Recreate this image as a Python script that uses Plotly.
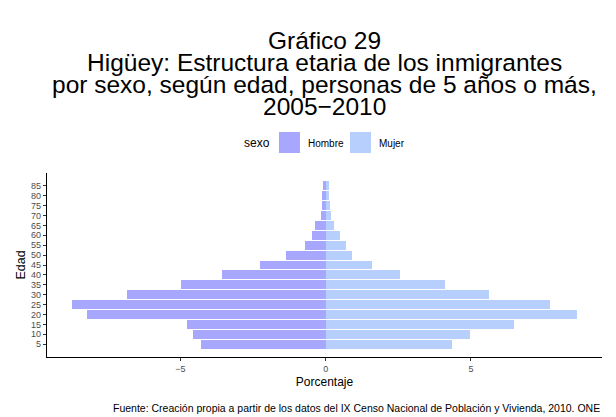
import plotly.graph_objects as go

_FONT = "Liberation Sans, Arial, sans-serif"
_HOMBRE = "#a7a7fe"
_MUJER = "#b7cffc"

# age groups (lower bound) and percentage of immigrants per sex
edades = [5, 10, 15, 20, 25, 30, 35, 40, 45, 50, 55, 60, 65, 70, 75, 80, 85]
hombre = [4.29, 4.56, 4.77, 8.21, 8.72, 6.83, 4.98, 3.57, 2.26, 1.37,
          0.71, 0.47, 0.37, 0.16, 0.13, 0.13, 0.10]
mujer = [4.34, 4.96, 6.47, 8.64, 7.71, 5.61, 4.10, 2.55, 1.59, 0.90,
         0.70, 0.49, 0.29, 0.18, 0.15, 0.11, 0.11]

x_ticks = [-5, 0, 5]
x_labels = ["\u22125", "0", "5"]

titulo = [
    "Gráfico 29",
    "Higüey: Estructura etaria de los inmigrantes",
    "por sexo, según edad, personas de 5 años o más,",
    "2005\u22122010",
]
fuente = ("Fuente: Creación propia a partir de los datos del IX Censo Nacional "
          "de Población y Vivienda, 2010. ONE")

# the page body has an 8px margin, so the figure is drawn 8px in
_OFF = 8
_W, _H = 616 - _OFF, 417 - _OFF
# plot area in page pixels (left, right, top, bottom)
_L, _R, _T, _B = 47, 602, 173, 357


def px(x, y):
    """page pixel position -> paper coordinates"""
    return (x - _L) / (_R - _L), (_B - y) / (_B - _T)


def plot_pyramid():
    fig = go.Figure()
    fig.add_trace(go.Bar(y=edades, x=[-v for v in hombre], orientation="h",
                         width=4.5, name="Hombre", marker_color=_HOMBRE,
                         marker_line_width=0, showlegend=False))
    fig.add_trace(go.Bar(y=edades, x=mujer, orientation="h", width=4.5,
                         name="Mujer", marker_color=_MUJER,
                         marker_line_width=0, showlegend=False))

    span = max(hombre) + max(mujer)
    axis = dict(showgrid=False, zeroline=False, showline=True, linecolor="black",
                linewidth=1.2, ticks="outside", ticklen=3, tickcolor="#333",
                tickfont=dict(size=9, color="#4d4d4d"), automargin=False)
    fig.update_xaxes(range=[-max(hombre) - 0.05 * span, max(mujer) + 0.05 * span],
                     tickvals=x_ticks, ticktext=x_labels,
                     title=dict(text="Porcentaje", font=dict(size=12, color="black"),
                                standoff=4), **axis)
    fig.update_yaxes(range=[-1.5, 91.5], tickvals=edades,
                     title=dict(text="Edad", font=dict(size=12.5, color="black"),
                                standoff=2), **axis)

    # title lines
    for i, line in enumerate(titulo):
        x, y = px(324, 40 + 22.3 * i)
        fig.add_annotation(text=line, xref="paper", yref="paper", x=x, y=y,
                           showarrow=False, xanchor="center", yanchor="middle",
                           font=dict(size=24.5, color="black"))

    # legend drawn by hand to get the ggplot look
    x, y = px(272, 143)
    fig.add_annotation(text="sexo", xref="paper", yref="paper", x=x, y=y,
                       showarrow=False, xanchor="right", yanchor="middle",
                       font=dict(size=12, color="black"))
    for name, color, x0 in [("Hombre", _HOMBRE, 279), ("Mujer", _MUJER, 350)]:
        a0, b0 = px(x0, 153)
        a1, b1 = px(x0 + 21, 132)
        fig.add_shape(type="rect", xref="paper", yref="paper",
                      x0=a0, x1=a1, y0=b0, y1=b1, opacity=1,
                      fillcolor=color, line_width=0)
        x, y = px(x0 + 27, 143)
        fig.add_annotation(text=name, xref="paper", yref="paper", x=x, y=y,
                           showarrow=False, xanchor="left", yanchor="middle",
                           font=dict(size=10, color="black"))

    x, y = px(602, 408)
    fig.add_annotation(text=fuente, xref="paper", yref="paper", x=x, y=y,
                       showarrow=False, xanchor="right", yanchor="middle",
                       font=dict(size=10.5, color="black"))

    fig.update_layout(template="simple_white", barmode="overlay", bargap=0,
                      width=_W, height=_H,
                      margin=dict(l=_L - _OFF, r=_W - (_R - _OFF),
                                  t=_T - _OFF, b=_H - (_B - _OFF)),
                      font=dict(family=_FONT), plot_bgcolor="white",
                      paper_bgcolor="white")
    return fig


fig = plot_pyramid()
fig.write_html("out.html")
